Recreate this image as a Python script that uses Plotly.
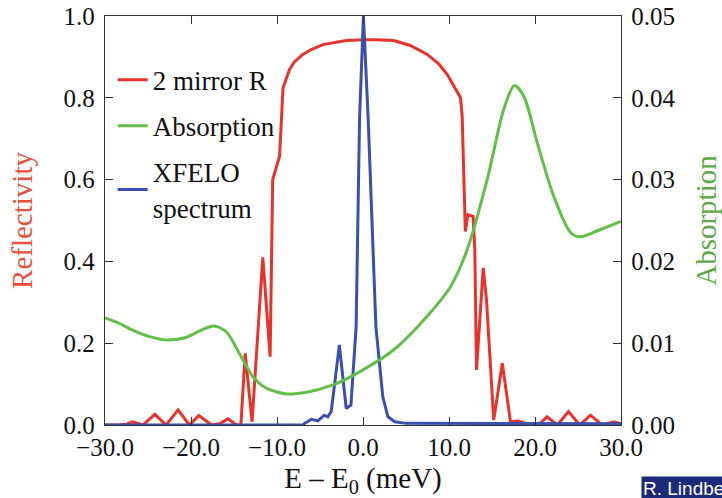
import plotly.graph_objects as go

# 2 mirror reflectivity
refl_E = [-30, -28.5, -27.5, -26.8, -25.6, -24.2, -22.9, -21.5, -20.2, -19.1, -17.6, -16.6, -15.7, -14.7, -14.2,
          -13.7, -12.9, -11.65, -10.8, -10.5, -9.7, -9.3, -8.55, -8.0, -7.0, -6.0, -4.67, -3.0, -1.95, 0.0,
          1.5, 3.58, 5.5, 7.47, 8.8, 9.8, 10.7,
          11.34, 11.53, 11.9, 12.2, 12.8, 13.0, 13.2, 13.98, 14.36, 15.2, 16.2, 17.15, 18.1, 19.5,
          20.4, 21.4, 22.6, 23.9, 25.2, 26.45, 27.8, 29.2, 30]
refl_R = [0.0, 0.0, 0.002, 0.008, 0.0, 0.026, 0.0, 0.037, 0.0, 0.023, 0.0, 0.004, 0.015, 0.0, 0.0,
          0.175, 0.008, 0.41, 0.167, 0.60, 0.657, 0.824, 0.869, 0.887, 0.906, 0.918, 0.930, 0.937, 0.940, 0.942,
          0.942, 0.940, 0.928, 0.906, 0.883, 0.857, 0.825,
          0.80, 0.755, 0.473, 0.514, 0.51, 0.43, 0.135, 0.384, 0.306, 0.012, 0.151, 0.008, 0.01, 0.0,
          0.0, 0.02, 0.0, 0.033, 0.0, 0.024, 0.0, 0.008, 0.003]

# Absorption (right axis)
abs_E = [-30, -28.5, -26.8, -24.8, -22.9, -20.6, -18.8, -17.3, -15.9, -14.4, -12.8, -11.25, -8.93, -6.6,
         -3.5, -0.4, 3.58, 7.46, 10.17, 12.1, 14.44, 16.37, 17.6, 18.7, 20.26, 22.2, 24.15, 25.3, 27.6, 30]
abs_A = [0.0131, 0.0125, 0.0116, 0.0108, 0.0104, 0.0107, 0.0116, 0.0121, 0.0114, 0.0088, 0.0059, 0.0045,
         0.0038, 0.0040, 0.0049, 0.0065, 0.0092, 0.0133, 0.0169, 0.0214, 0.0300, 0.0386, 0.0415, 0.0402,
         0.0345, 0.0279, 0.0235, 0.0230, 0.0239, 0.0249]

# XFELO spectrum (left axis, normalised)
xf_E = [-30, -7.0, -6.8, -6.0, -5.25, -4.5, -4.1, -3.7, -3.3, -2.75, -1.95, -1.4, -0.8, -0.4, 0.05,
        0.6, 1.5, 1.75, 2.3, 2.9, 3.7, 5.0, 30]
xf_I = [0.0, 0.0, 0.004, 0.014, 0.01, 0.024, 0.02, 0.033, 0.10, 0.196, 0.04, 0.049, 0.24, 0.75, 1.0,
        0.75, 0.24, 0.19, 0.069, 0.02, 0.008, 0.004, 0.003]

RED = "#e8322a"
GREEN = "#62bf48"
BLUE = "#3a4fb0"
FONT = "Liberation Serif"

fig = go.Figure()
fig.add_trace(go.Scatter(x=refl_E, y=refl_R, mode="lines", name="2 mirror R",
                         line=dict(color=RED, width=3), legendgroup="a"))
fig.add_trace(go.Scatter(x=abs_E, y=abs_A, mode="lines", name="Absorption", yaxis="y2",
                         line=dict(color=GREEN, width=3, shape="spline", smoothing=0.8), legendgroup="b"))
fig.add_trace(go.Scatter(x=xf_E, y=xf_I, mode="lines", name="XFELO<br>spectrum",
                         line=dict(color=BLUE, width=3), legendgroup="c"))

axis_common = dict(showline=True, linecolor="#333333", linewidth=1.3, ticks="inside", ticklen=8,
                   tickcolor="#333333", showgrid=False, zeroline=False, automargin=False,
                   tickfont=dict(family=FONT, size=25, color="#111111"))

fig.update_layout(
    width=722, height=498,
    margin=dict(l=105, r=101, t=16, b=73),
    paper_bgcolor="white", plot_bgcolor="white",
    font=dict(family=FONT, size=25, color="#111111"),
    xaxis=dict(range=[-30, 30], tickvals=[-30, -20, -10, 0, 10, 20, 30], tickformat=".1f",
               mirror="ticks",
               title=dict(text="E – E<sub>0</sub> (meV)", font=dict(family=FONT, size=29, color="#111111"),
                          standoff=8),
               **axis_common),
    yaxis=dict(range=[0, 1.0], tickvals=[0, 0.2, 0.4, 0.6, 0.8, 1.0], tickformat=".1f",
               ticklabelstandoff=4,
               title=dict(text="Reflectivity", font=dict(family=FONT, size=29, color="#e8503a"),
                          standoff=22),
               **axis_common),
    yaxis2=dict(range=[0, 0.05], tickvals=[0, 0.01, 0.02, 0.03, 0.04, 0.05], tickformat=".2f",
                overlaying="y", side="right", ticklabelstandoff=4,
                title=dict(text="Absorption", font=dict(family=FONT, size=29, color="#5aab48"),
                           standoff=28),
                **axis_common),
    legend=dict(x=0.015, y=0.903, xanchor="left", yanchor="top", bgcolor="rgba(0,0,0,0)",
                font=dict(family=FONT, size=27, color="#111111"), tracegroupgap=8,
                itemwidth=30),
    showlegend=True,
)

fig.add_annotation(xref="paper", yref="paper", x=(641 - 105) / 516, y=-(476 - 425) / 408.5,
                   xanchor="left", yanchor="top", text="R. Lindberg", showarrow=False,
                   font=dict(family="Liberation Sans", size=19, color="white"),
                   bgcolor="#1c2a7a", borderpad=1)

fig.write_html("out.html")
